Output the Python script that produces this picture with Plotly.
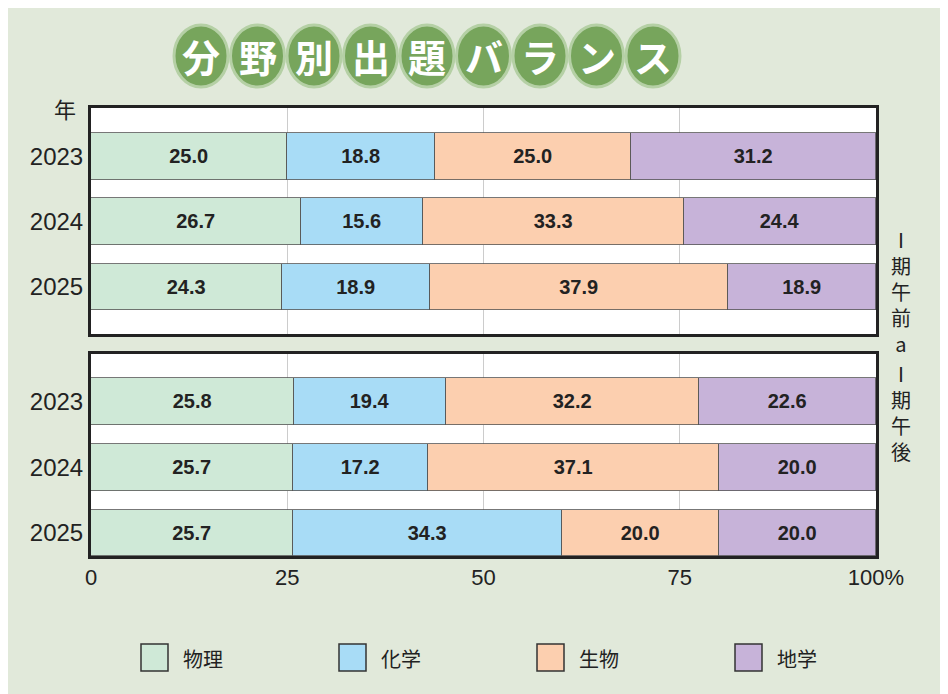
import plotly.graph_objects as go

years = ["2023", "2024", "2025"]
subjects = ["物理", "化学", "生物", "地学"]
colors = ["#cfe9d7", "#a8dcf6", "#fccfaf", "#c7b3d9"]
am = {"物理": [25.0, 26.7, 24.3], "化学": [18.8, 15.6, 18.9],
      "生物": [25.0, 33.3, 37.9], "地学": [31.2, 24.4, 18.9]}
pm = {"物理": [25.8, 25.7, 25.7], "化学": [19.4, 17.2, 34.3],
      "生物": [32.2, 37.1, 20.0], "地学": [22.6, 20.0, 20.0]}
title_chars = list("分野別出題バランス")
FONT = "Liberation Sans, Noto Sans CJK JP"
CJK = "Noto Sans CJK JP"

L, R, T, B = 83, 80, 100, 146
W, Hh = 948, 694
PW, H = W - L - R, Hh - T - B


def px(x):
    return (x - L) / PW


def py(y):
    return (Hh - y - B) / H


fig = go.Figure()
rows = [0, 1, 2]
for data, ya in [(am, "y"), (pm, "y2")]:
    for s, c in zip(subjects, colors):
        fig.add_trace(go.Bar(
            x=data[s], y=rows, orientation="h", name=s,
            marker=dict(color=c, line=dict(color="#555", width=0.8)),
            text=[f"{v:.1f}" for v in data[s]], textposition="inside", insidetextanchor="middle",
            textfont=dict(size=20, color="#222", family="Liberation Sans Narrow, Liberation Sans", weight="bold"),
            width=0.71, yaxis=ya, xaxis="x" if ya == "y" else "x2", showlegend=False,
            hoverinfo="skip"))

ax_common = dict(showline=True, linecolor="#222", linewidth=3, mirror=True,
                 ticks="", zeroline=False, automargin=False)
fig.update_layout(
    barmode="stack", width=W, height=Hh, paper_bgcolor="#e1e9da", plot_bgcolor="white",
    margin=dict(l=L, r=R, t=T, b=B, autoexpand=False), font=dict(family=FONT, color="#222"),
    xaxis=dict(range=[0, 100], domain=[0, 1], anchor="y", showticklabels=False, tickvals=[25, 50, 75],
               showgrid=True, gridcolor="#ccc", **ax_common),
    xaxis2=dict(range=[0, 100], domain=[0, 1], anchor="y2", tickvals=[0, 25, 50, 75, 100],
                ticktext=["0", "25", "50", "75", "100%"], tickfont=dict(size=22, family=FONT),
                showgrid=True, gridcolor="#ccc", **ax_common),
    yaxis=dict(range=[2.72, -0.74], domain=[1 - 226 / H, 1], tickvals=rows, ticktext=years,
               tickfont=dict(size=24, family=FONT), showgrid=False, **ax_common),
    yaxis2=dict(range=[2.35, -0.72], domain=[0, 202 / H], tickvals=rows, ticktext=years,
                tickfont=dict(size=24, family=FONT), showgrid=False, **ax_common),
    bargap=0, showlegend=False,
)

shapes, anns = [], []
cx0, step, cy = 193, 56.5, 48
for i, ch in enumerate(title_chars):
    cx = cx0 + i * step
    shapes.append(dict(type="circle", xref="paper", yref="paper",
                       x0=px(cx - 27), x1=px(cx + 27), y0=py(cy + 31), y1=py(cy - 31),
                       fillcolor="#77a55c", line=dict(color="#b5d0a5", width=3), layer="above"))
    anns.append(dict(text=ch, x=px(cx), y=py(cy), xref="paper", yref="paper",
                     xanchor="center", yanchor="middle",
                     showarrow=False, font=dict(size=38, color="white", family=CJK, weight="bold")))
anns.append(dict(text="年", x=px(57), y=py(100), xref="paper", yref="paper", xanchor="center",
                 yanchor="middle", showarrow=False, font=dict(size=22, family=CJK)))
anns.append(dict(text="Ⅰ<br>期<br>午<br>前<br>a", x=px(905), y=py(215), xref="paper", yref="paper",
                 showarrow=False, font=dict(size=20, family=CJK)))
anns.append(dict(text="Ⅰ<br>期<br>午<br>後", x=px(905), y=py(460), xref="paper", yref="paper",
                 showarrow=False, font=dict(size=20, family=CJK)))
# legend
for i, (s, c) in enumerate(zip(subjects, colors)):
    x0 = 133 + i * 198
    shapes.append(dict(type="rect", xref="paper", yref="paper", x0=px(x0), x1=px(x0 + 27),
                       y0=py(663), y1=py(636), fillcolor=c, line=dict(color="#333", width=1.5)))
    anns.append(dict(text=s, x=px(x0 + 40), y=py(650), xref="paper", yref="paper", xanchor="left",
                     yanchor="middle", showarrow=False, font=dict(size=20, family=CJK)))
fig.update_layout(shapes=shapes, annotations=anns)
fig.write_html("out.html")
